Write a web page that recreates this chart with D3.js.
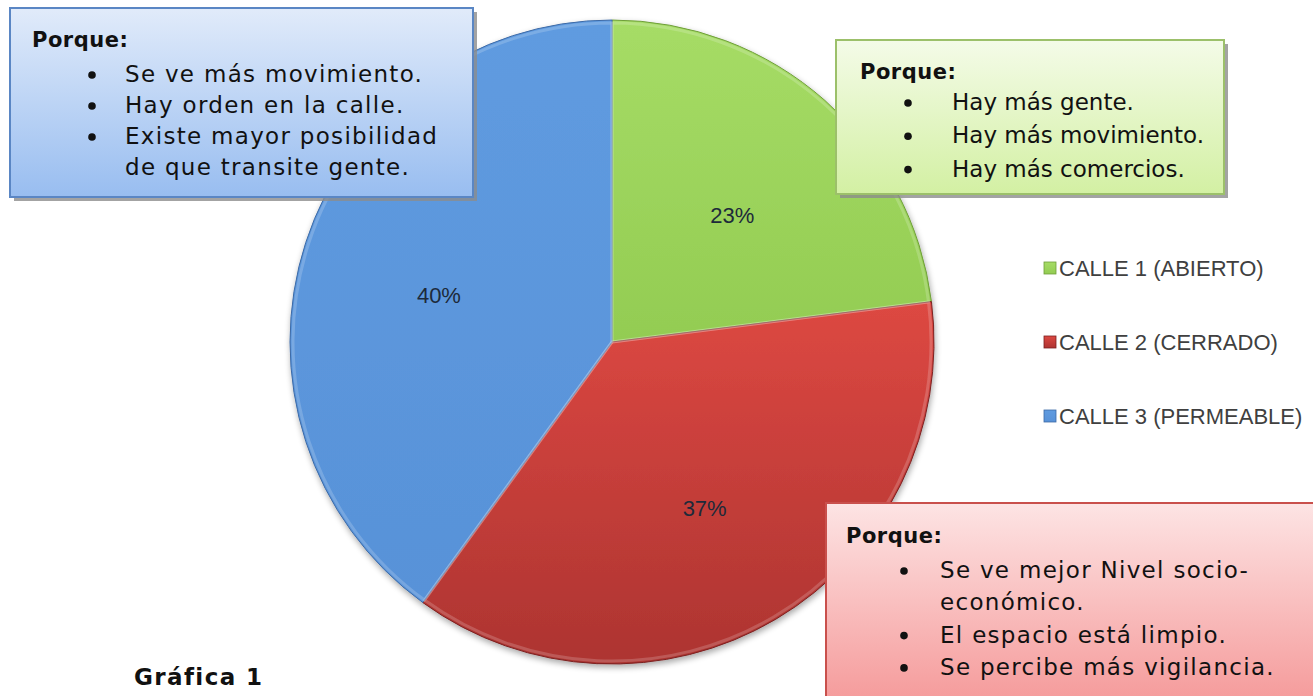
<!DOCTYPE html>
<html>
<head>
<meta charset="utf-8">
<script src="https://cdn.jsdelivr.net/npm/d3@7"></script>
<style>
  body { margin: 0; background: #fff; }
  svg { display: block; }
  .box-text { font-family: "DejaVu Sans", sans-serif; font-size: 23px; fill: #111; }
  .box-title { font-family: "DejaVu Sans", sans-serif; font-size: 21px; font-weight: bold; fill: #111; letter-spacing: 0.5px; }
  .legend text { font-family: "Liberation Sans", Arial, sans-serif; font-size: 22px; fill: #404040; }
  .pct { font-family: "Liberation Sans", Arial, sans-serif; font-size: 22px; fill: #1d2a3a; }
</style>
</head>
<body>
<script>
var width = 1313, height = 696;

// datos
var categorias = ["CALLE 1 (ABIERTO)", "CALLE 2 (CERRADO)", "CALLE 3 (PERMEABLE)"];
var valores = [23, 37, 40];
var razonesCalle1 = [["Hay más gente."], ["Hay más movimiento."], ["Hay más comercios."]];
var razonesCalle2 = [["Se ve mejor Nivel socio-", "económico."], ["El espacio está limpio."], ["Se percibe más vigilancia."]];
var razonesCalle3 = [["Se ve más movimiento."], ["Hay orden en la calle."], ["Existe mayor posibilidad", "de que transite gente."]];
var titulo = "Gráfica 1";

var colors = [
  { top: "#a6dc66", bottom: "#93cc52", edge: "#6f9e3a" },
  { top: "#dd4842", bottom: "#ad3431", edge: "#7a2020" },
  { top: "#5f9be0", bottom: "#5892d8", edge: "#3d6aa6" }
];

var svg = d3.select("body").append("svg")
  .attr("width", width)
  .attr("height", height);

var defs = svg.append("defs");

colors.forEach(function (c, i) {
  var g = defs.append("linearGradient")
    .attr("id", "slice-" + i)
    .attr("x1", 0).attr("y1", 0).attr("x2", 0).attr("y2", 1);
  g.append("stop").attr("offset", "0%").attr("stop-color", c.top);
  g.append("stop").attr("offset", "100%").attr("stop-color", c.bottom);
});

var shadow = defs.append("filter").attr("id", "pie-shadow")
  .attr("x", "-10%").attr("y", "-10%").attr("width", "120%").attr("height", "120%");
shadow.append("feGaussianBlur").attr("in", "SourceAlpha").attr("stdDeviation", 3);
shadow.append("feOffset").attr("dx", 1).attr("dy", 3).attr("result", "blur");
shadow.append("feComponentTransfer").append("feFuncA").attr("type", "linear").attr("slope", 0.35);
var merge = shadow.append("feMerge");
merge.append("feMergeNode");
merge.append("feMergeNode").attr("in", "SourceGraphic");

// pie
var cx = 612, cy = 342, radius = 322;

var pie = d3.pie().sort(null).value(function (d) { return d; });
var arc = d3.arc().innerRadius(0).outerRadius(radius);
var labelArc = d3.arc().innerRadius(182).outerRadius(182);

var arcs = pie(valores);

var gPie = svg.append("g")
  .attr("transform", "translate(" + cx + "," + cy + ")");

gPie.append("g")
  .attr("filter", "url(#pie-shadow)")
  .selectAll("path")
  .data(arcs)
  .enter().append("path")
  .attr("d", arc)
  .attr("fill", function (d, i) { return "url(#slice-" + i + ")"; })
  .attr("stroke", function (d, i) { return colors[i].edge; })
  .attr("stroke-width", 1);

// slight highlight along slice edges (bevel look)
gPie.selectAll(".bevel")
  .data(arcs)
  .enter().append("path")
  .attr("class", "bevel")
  .attr("d", d3.arc().innerRadius(0).outerRadius(radius - 3))
  .attr("fill", "none")
  .attr("stroke", "#fff")
  .attr("stroke-opacity", 0.18)
  .attr("stroke-width", 3);

gPie.selectAll(".pct")
  .data(arcs)
  .enter().append("text")
  .attr("class", "pct")
  .attr("text-anchor", "middle")
  .attr("dy", "0.35em")
  .attr("transform", function (d) {
    var c = labelArc.centroid(d);
    return "translate(" + c[0] + "," + (c[1] + 10) + ")";
  })
  .text(function (d) { return d.data + "%"; });

// legend
var legend = svg.append("g").attr("class", "legend")
  .attr("transform", "translate(1044,268)");

var legendRow = d3.scaleBand().domain(categorias).range([0, 222]);

var li = legend.selectAll("g")
  .data(categorias)
  .enter().append("g")
  .attr("transform", function (d) { return "translate(0," + legendRow(d) + ")"; });

li.append("rect")
  .attr("x", 0).attr("y", -6)
  .attr("width", 12).attr("height", 12)
  .attr("fill", function (d, i) { return "url(#slice-" + i + ")"; })
  .attr("stroke", function (d, i) { return colors[i].edge; })
  .attr("stroke-width", 0.8);

li.append("text")
  .attr("x", 15)
  .attr("dy", "0.36em")
  .text(function (d) { return d; });

// text boxes
function drawBox(opts) {
  var gid = "box-" + opts.id;
  var g = defs.append("linearGradient")
    .attr("id", gid)
    .attr("x1", 0).attr("y1", 0).attr("x2", 0).attr("y2", 1);
  g.append("stop").attr("offset", "0%").attr("stop-color", opts.top);
  g.append("stop").attr("offset", "100%").attr("stop-color", opts.bottom);

  var box = svg.append("g")
    .attr("transform", "translate(" + opts.x + "," + opts.y + ")");

  box.append("rect")
    .attr("x", 4).attr("y", 4)
    .attr("width", opts.w).attr("height", opts.h)
    .attr("fill", "#8c8c8c")
    .attr("opacity", 0.8);

  box.append("rect")
    .attr("width", opts.w).attr("height", opts.h)
    .attr("fill", "url(#" + gid + ")")
    .attr("stroke", opts.border)
    .attr("stroke-width", 2);

  box.append("text")
    .attr("class", "box-title")
    .attr("x", opts.titleX)
    .attr("y", opts.titleY)
    .text("Porque:");

  var line = 0;
  opts.items.forEach(function (item) {
    item.forEach(function (t, j) {
      var y = opts.firstY + line * opts.lineH;
      if (j === 0) {
        box.append("circle")
          .attr("cx", opts.bulletX)
          .attr("cy", y - 7)
          .attr("r", 3.8)
          .attr("fill", "#111");
      }
      box.append("text")
        .attr("class", "box-text")
        .attr("x", opts.textX)
        .attr("y", y)
        .attr("letter-spacing", opts.spacing + "px")
        .text(t);
      line++;
    });
  });
}

drawBox({
  id: "azul", x: 10, y: 8, w: 463, h: 189,
  top: "#e1ebfa", bottom: "#98bdf0", border: "#5a86c4",
  titleX: 22, titleY: 39, bulletX: 82, textX: 115,
  firstY: 74, lineH: 31, spacing: 1.3, items: razonesCalle3
});

drawBox({
  id: "verde", x: 836, y: 40, w: 388, h: 154,
  top: "#f4fbe8", bottom: "#d3f0a3", border: "#9cc06a",
  titleX: 24, titleY: 39, bulletX: 72, textX: 116,
  firstY: 70, lineH: 33.3, spacing: 0, items: razonesCalle1
});

drawBox({
  id: "rojo", x: 826, y: 503, w: 500, h: 200,
  top: "#fde4e4", bottom: "#f59a9a", border: "#c9504c",
  titleX: 20, titleY: 40, bulletX: 78, textX: 114,
  firstY: 75, lineH: 32.3, spacing: 1.3, items: razonesCalle2
});

svg.append("text")
  .attr("x", 134)
  .attr("y", 685)
  .attr("font-family", "DejaVu Sans, sans-serif")
  .attr("font-size", 23)
  .attr("font-weight", "bold")
  .attr("letter-spacing", "1.4px")
  .attr("fill", "#111")
  .text(titulo);
</script>
</body>
</html>
